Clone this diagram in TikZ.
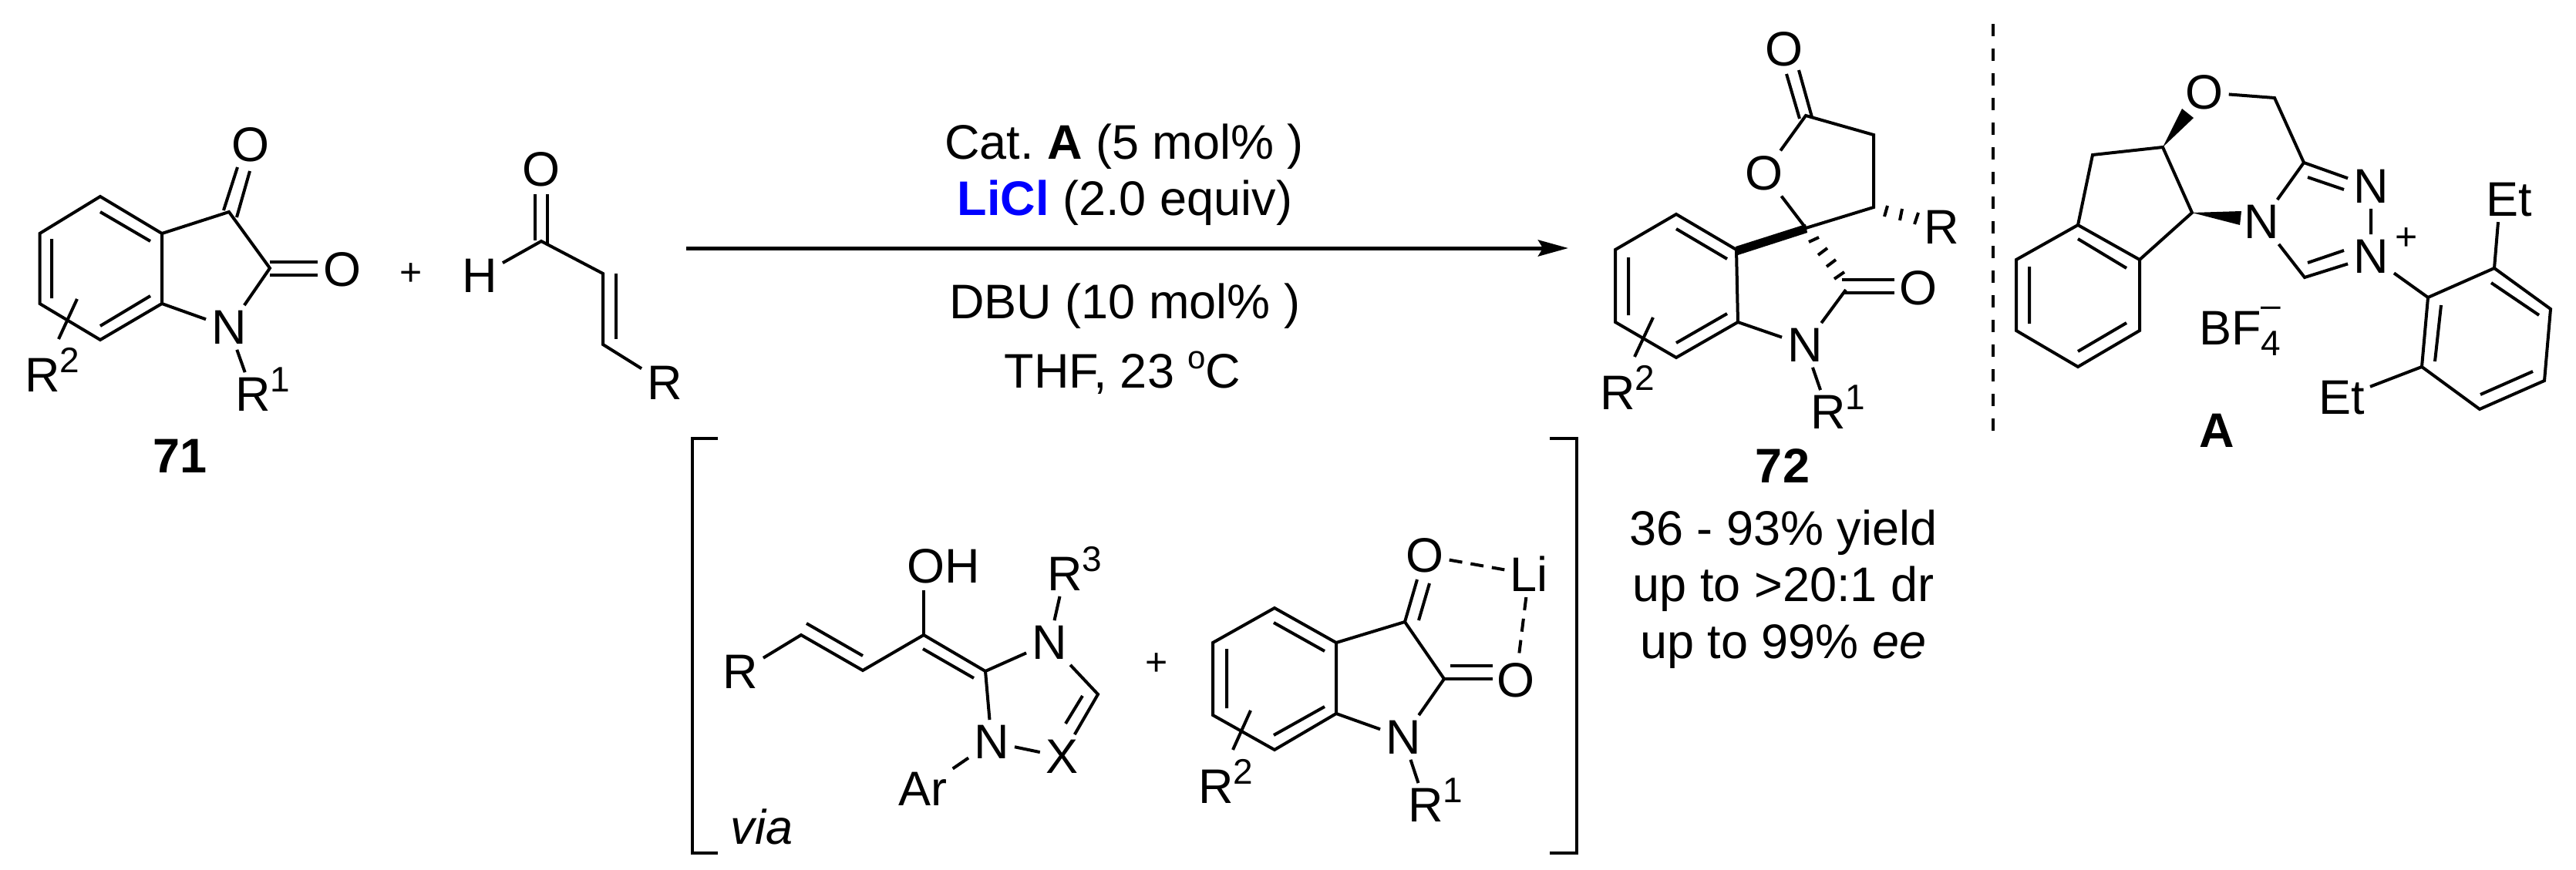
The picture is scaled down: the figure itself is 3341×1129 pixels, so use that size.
\documentclass[tikz,border=0pt]{standalone}
\usepackage{fontspec}
\setmainfont{Liberation Sans}
\usetikzlibrary{arrows.meta}
\newcommand{\Rs}[1]{R\smash{\rlap{\raisebox{25pt}{\fontsize{46}{46}\selectfont #1}}}}
\frenchspacing
\begin{document}
\begin{tikzpicture}[
  x=1pt, y=-1pt,
  bond/.style={line width=4pt},
  atom/.style={inner sep=7pt, font=\fontsize{63}{70}\selectfont},
  txt/.style={inner sep=0pt, anchor=base, font=\fontsize{63}{70}\selectfont},
  plus/.style={inner sep=0pt, font=\fontsize{50}{50}\selectfont}
]
\useasboundingbox (0,0) rectangle (3341,1129);

% Isatin 71
\coordinate (a1) at (130,255); \coordinate (a2) at (210,303); \coordinate (a3) at (210,394);
\coordinate (a4) at (130,441); \coordinate (a5) at (51.5,394); \coordinate (a6) at (51.5,303);
\coordinate (a7) at (297,275); \coordinate (a8) at (350,348);
\node[atom] (n71) at (297,425) {N};
\node[atom] (o71a) at (325,188) {O};
\node[atom] (o71b) at (444,350) {O};
\node[atom] (r71a) at (328,512) {\Rs{1}};
\node[atom] (r71b) at (55,487) {\Rs{2}};
\draw[bond] (a1) -- (a2) -- (a3) -- (a4) -- (a5) -- (a6) -- cycle;
\draw[bond] (a2) -- (a7) -- (a8) -- (n71);
\draw[bond] (a3) -- (n71);
\draw[bond] (n71) -- (r71a);
\draw[bond] (130,275) -- (195,313) (67,310) -- (67,387) (130,423) -- (195,384);
\draw[bond] (290,273) -- (308,217) (307,282) -- (324,222);
\draw[bond] (350,340) -- (412,340) (350,357) -- (412,357);
\draw[bond] (100,388) -- (76,440);
\node[txt] (lbl71) at (234,613) {\bfseries 71};

\node[plus] (plus1) at (533,356) {+};

% Enal
\coordinate (b1) at (702,313); \coordinate (b2) at (782,355); \coordinate (b3) at (782,447);
\node[atom] (hb) at (622,358) {H};
\node[atom] (ob) at (702,220) {O};
\node[atom] (rb) at (862,497) {R};
\draw[bond] (hb) -- (b1) -- (b2) -- (b3) -- (rb);
\draw[bond] (694,252) -- (694,312) (710,252) -- (710,316);
\draw[bond] (799,355) -- (799,440);

% Reaction arrow
\coordinate (arr_s) at (890,322);
\coordinate (arr_e) at (2034,322);
\draw[line width=5pt, -{Stealth[length=39pt,width=21pt,inset=6pt]}] (arr_s) -- (arr_e);
\node[txt] (cond1) at (1458,206) {Cat. \textbf{A} (5 mol\% )};
\node[txt] (cond2) at (1459,279) {\textcolor{blue}{\textbf{LiCl}} (2.0 equiv)};
\node[txt] (cond3) at (1459,413) {DBU (10 mol\% )};
\node[txt] (cond4) at (1456,503) {THF, 23 \raisebox{25pt}{\fontsize{42}{42}\selectfont o}C};

% Product 72
\coordinate (c1) at (2174,278); \coordinate (c2) at (2252,324); \coordinate (c3) at (2254,418);
\coordinate (c4) at (2174,464); \coordinate (c5) at (2095,418); \coordinate (c6) at (2095,324);
\coordinate (c7) at (2342,296); \coordinate (c8) at (2394,376); \coordinate (c9) at (2342,150);
\coordinate (c10) at (2430,175); \coordinate (c11) at (2430,269);
\node[atom] (n72) at (2341,448) {N};
\node[atom] (o72a) at (2288,225) {O};
\node[atom] (o72b) at (2314,64) {O};
\node[atom] (o72c) at (2488,374) {O};
\node[atom] (r72a) at (2371,535) {\Rs{1}};
\node[atom] (r72b) at (2098,510) {\Rs{2}};
\node[atom] (r72c) at (2518,295) {R};
\draw[bond] (c1) -- (c2) -- (c3) -- (c4) -- (c5) -- (c6) -- cycle;
\draw[bond] (c3) -- (n72) -- (c8);
\draw[bond] (n72) -- (r72a);
\draw[bond] (o72a) -- (c7) -- (c11) -- (c10) -- (c9) -- (o72a);
\fill (2251,320) -- (2254,331) -- (2344,302) -- (2342,291) -- cycle;
\draw[bond] (2174,297) -- (2240,336) (2112,334) -- (2112,409) (2174,445) -- (2240,407);
\draw[bond] (2144,412) -- (2120,463);
\draw[bond] (2317,96) -- (2334,154) (2333,91) -- (2350,152);
\draw[bond] (2389,363) -- (2457,363) (2392,380) -- (2457,380);
\draw[bond] (2346,314) -- (2359,308) (2358,331) -- (2370,322) (2369,346) -- (2381,337) (2379,362) -- (2392,353);
\draw[bond] (2448,267) -- (2444,281) (2467,271) -- (2464,286) (2488,276) -- (2483,291);
\node[txt] (lbl72) at (2312,626) {\bfseries 72};
\node[txt] (res1) at (2313,707) {36 - 93\% yield};
\node[txt] (res2) at (2313,780) {up to >20:1 dr};
\node[txt] (res3) at (2313,854) {up to 99\% \textit{ee}};

% Dashed separator
\coordinate (sep_t) at (2585,31);
\coordinate (sep_b) at (2585,561);
\draw[bond, dash pattern=on 16pt off 16pt] (sep_t) -- (sep_b);

% Catalyst A
\coordinate (d1) at (2695,292); \coordinate (d2) at (2775,337); \coordinate (d3) at (2775,429);
\coordinate (d4) at (2695,476); \coordinate (d5) at (2615,429); \coordinate (d6) at (2615,337);
\coordinate (d7) at (2714,201); \coordinate (d8) at (2805,191); \coordinate (d9) at (2843,276);
\coordinate (d10) at (2950,127); \coordinate (d11) at (2988,211); \coordinate (d12) at (2989,360);
\coordinate (e1) at (3149,386); \coordinate (e2) at (3235,348); \coordinate (e3) at (3308,401);
\coordinate (e4) at (3300,494); \coordinate (e5) at (3216,531); \coordinate (e6) at (3141,476);
\node[atom] (od) at (2859,120) {O};
\node[atom] (nd1) at (2933,288) {N};
\node[atom] (nd2) at (3075,242) {N};
\node[atom] (nd3) at (3075,333) {N};
\node[plus] (plusd) at (3121,310) {+};
\node[atom] (et1) at (3254,259) {Et};
\node[atom] (et2) at (3037,516) {Et};
\draw[bond] (d1) -- (d2) -- (d3) -- (d4) -- (d5) -- (d6) -- cycle;
\draw[bond] (d1) -- (d7) -- (d8) -- (d9) -- (d2);
\draw[bond] (od) -- (d10) -- (d11) -- (nd1) -- (d12) -- (nd3);
\draw[bond] (d11) -- (nd2) -- (nd3);
\draw[bond] (nd3) -- (e1);
\draw[bond] (e1) -- (e2) -- (e3) -- (e4) -- (e5) -- (e6) -- cycle;
\draw[bond] (e2) -- ([xshift=-14pt]et1.south);
\draw[bond] (e6) -- (et2);
\fill (2805,191) -- (2830,141) -- (2845,153) -- cycle;
\fill (2843,276) -- (2907,274) -- (2905,292) -- cycle;
\draw[bond] (2695,310) -- (2758,348) (2632,346) -- (2632,420) (2695,456) -- (2758,419);
\draw[bond] (2993,230) -- (3040,246) (2993,341) -- (3040,325);
\draw[bond] (3231,367) -- (3293,409) (3285,482) -- (3217,512) (3166,396) -- (3158,469);
\node[txt, anchor=base west] (bf4) at (2852,447) {BF\smash{\rlap{\raisebox{-14pt}{\fontsize{46}{46}\selectfont 4}}\rlap{\raisebox{36pt}{\fontsize{46}{46}\selectfont –}}}};
\node[txt] (lbla) at (2875,580) {\bfseries A};

% Brackets
\coordinate (bl1) at (931,569); \coordinate (bl2) at (898,569); \coordinate (bl3) at (898,1107); \coordinate (bl4) at (931,1107);
\coordinate (br1) at (2010,569); \coordinate (br2) at (2045,569); \coordinate (br3) at (2045,1107); \coordinate (br4) at (2010,1107);
\draw[bond] (bl1) -- (bl2) -- (bl3) -- (bl4);
\draw[bond] (br1) -- (br2) -- (br3) -- (br4);
\node[txt] (via) at (988,1095) {\itshape via};

% Breslow intermediate
\coordinate (f1) at (1039,824); \coordinate (f2) at (1119,870); \coordinate (f3) at (1198,824);
\coordinate (f4) at (1278,871); \coordinate (f5) at (1424,901);
\node[atom] (rf) at (960,872) {R};
\node[txt, anchor=base west] (ohf) at (1176,756) {OH};
\coordinate (ohb) at (1198,766);
\node[atom] (nf1) at (1361,834) {N};
\node[atom] (nf2) at (1286,963) {N};
\node[atom] (xf) at (1377,982) {X};
\node[atom] (r3f) at (1381,745) {\Rs{3}};
\node[atom] (arf) at (1197,1024) {Ar};
\draw[bond] (rf) -- (f1) -- (f2) -- (f3) -- (f4) -- (nf1) -- (f5) -- (xf) -- (nf2) -- (f4);
\draw[bond] (f3) -- (ohb);
\draw[bond] (nf1) -- (r3f);
\draw[bond] (nf2) -- (arf);
\draw[bond] (1046,809) -- (1119,851) (1197,842) -- (1263,880) (1404,903) -- (1382,939);

\node[plus] (plus2) at (1500,862) {+};

% Li chelated isatin
\coordinate (g1) at (1653,789); \coordinate (g2) at (1733,834); \coordinate (g3) at (1733,926);
\coordinate (g4) at (1653,973); \coordinate (g5) at (1573,928); \coordinate (g6) at (1573,834);
\coordinate (g7) at (1822,807); \coordinate (g8) at (1873,881);
\node[atom] (ng) at (1820,957) {N};
\node[atom] (og1) at (1848,721) {O};
\node[atom] (og2) at (1966,883) {O};
\node[atom] (lig) at (1983,745) {Li};
\node[atom] (rg1) at (1849,1045) {\Rs{1}};
\node[atom] (rg2) at (1577,1021) {\Rs{2}};
\draw[bond] (g1) -- (g2) -- (g3) -- (g4) -- (g5) -- (g6) -- cycle;
\draw[bond] (g2) -- (g7) -- (g8) -- (ng) -- (g3);
\draw[bond] (ng) -- (rg1);
\draw[bond] (1652,808) -- (1718,845) (1591,842) -- (1591,919) (1652,954) -- (1718,917);
\draw[bond] (1622,922) -- (1599,973);
\draw[bond] (1822,807) -- (1838,752) (1840,805) -- (1854,757);
\draw[bond] (1881,864) -- (1936,864) (1873,881) -- (1936,881);
\draw[bond, dash pattern=on 17pt off 11pt] (og1) -- (lig);
\draw[bond, dash pattern=on 17pt off 11pt] (lig) -- (og2);
\end{tikzpicture}
\end{document}
